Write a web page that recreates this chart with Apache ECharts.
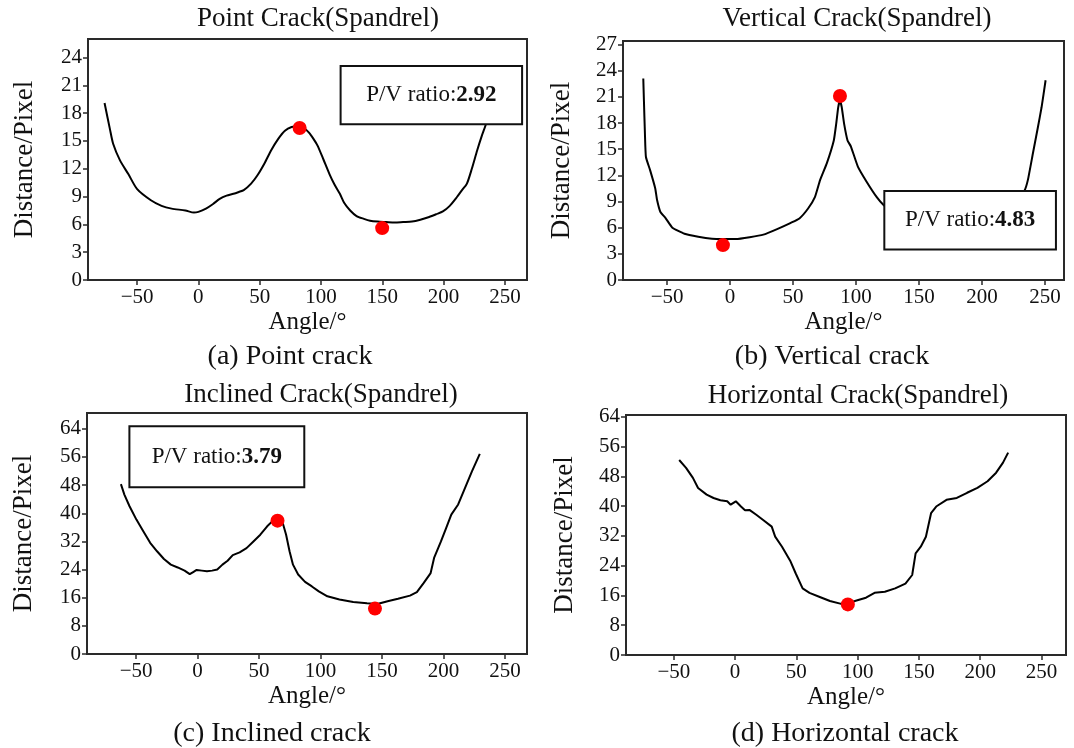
<!DOCTYPE html>
<html>
<head>
<meta charset="utf-8">
<script src="https://cdn.jsdelivr.net/npm/echarts@6/dist/echarts.min.js"></script>
<style>
  html, body { margin: 0; padding: 0; background: #ffffff; }
  #chart { width: 1074px; height: 748px; }
</style>
</head>
<body>
<div id="chart"></div>
<script>
// Distance profile (pixel) versus scan angle for four spandrel crack types.

const panelTitles = ['Point Crack(Spandrel)', 'Vertical Crack(Spandrel)', 'Inclined Crack(Spandrel)', 'Horizontal Crack(Spandrel)'];
const panelCaptions = ['(a) Point crack', '(b) Vertical crack', '(c) Inclined crack', '(d) Horizontal crack'];

const angleTicks = [-50, 0, 50, 100, 150, 200, 250];
const pointTicks = [0, 3, 6, 9, 12, 15, 18, 21, 24];
const verticalTicks = [0, 3, 6, 9, 12, 15, 18, 21, 24, 27];
const inclinedTicks = [0, 8, 16, 24, 32, 40, 48, 56, 64];
const horizontalTicks = [0, 8, 16, 24, 32, 40, 48, 56, 64];

// [angle (deg), distance (px)]
const pointCurve = [
  [-76.5, 19.1], [-72, 16.2], [-69.5, 14.7], [-63.9, 12.9], [-57, 11.4], [-49.9, 9.8],
  [-38.7, 8.6], [-30, 8.0], [-21.8, 7.7], [-10.6, 7.5], [-3.6, 7.27], [0, 7.35],
  [6.2, 7.7], [12, 8.2], [17.4, 8.75], [23, 9.1], [28.6, 9.3], [33, 9.5], [37, 9.7],
  [43, 10.4], [48.2, 11.3], [54, 12.6], [59.4, 14.0], [65, 15.2], [70.6, 16.1],
  [76, 16.5], [81.8, 16.6], [86, 16.4], [90.2, 15.9], [94, 15.2], [97.2, 14.5],
  [102, 13.0], [107, 11.4], [111, 10.3], [115.4, 9.3], [119, 8.3], [123.8, 7.5],
  [129, 6.9], [135, 6.6], [140, 6.4], [146.2, 6.3], [153, 6.25], [160.2, 6.2],
  [167, 6.25], [174.2, 6.3], [181, 6.5], [188.2, 6.8], [194, 7.1], [199.4, 7.4],
  [205, 8.0], [210.6, 8.9], [215, 9.7], [219, 10.4], [223, 12.0], [227.4, 14.0],
  [231, 15.5], [235, 17.0], [238, 18.5]
];
const pointMarks = [[82.6, 16.4], [149.9, 5.6]];
const pointRatio = '2.92';

const verticalCurve = [
  [-68.9, 23.1], [-68.4, 20.6], [-67.6, 16.8], [-66.8, 14.1], [-63.5, 12.6], [-59.4, 10.5],
  [-58, 9.2], [-55.3, 7.8], [-51.2, 7.1], [-45.8, 6.0], [-36.2, 5.3], [-25.3, 4.96],
  [-14.4, 4.73], [-6.3, 4.69], [4.6, 4.69], [15.5, 4.9], [26.4, 5.2], [37.3, 5.84],
  [48.2, 6.56], [55, 7.06], [61.9, 8.2], [67.3, 9.5], [71.4, 11.45], [76.8, 13.4],
  [82.3, 16.0], [84.2, 17.9], [85.8, 19.8], [87.2, 20.6], [88.6, 19.8], [90.5, 17.9],
  [93.2, 16.0], [95.9, 15.3], [101.4, 13.0], [108.2, 11.3], [116.4, 9.5], [121.8, 8.6],
  [130, 7.6], [140, 6.8], [150, 6.2], [160, 5.8], [170, 5.6], [180, 5.6], [190, 5.8],
  [200, 6.2], [210, 6.9], [220, 7.9], [228, 9.2], [233.5, 10.2], [236.3, 11.45],
  [240.3, 14.5], [244.4, 17.6], [247.2, 19.8], [250.4, 22.9]
];
const verticalMarks = [[87.2, 21.1], [-5.7, 4.0]];
const verticalRatio = '4.83';

const inclinedCurve = [
  [-62.4, 48.3], [-59.6, 45.3], [-55.4, 42.0], [-49.8, 38.2], [-44.2, 34.9], [-38.6, 31.6],
  [-33.0, 29.2], [-27.4, 27.0], [-21.8, 25.4], [-16.2, 24.6], [-10.6, 23.7], [-6.4, 22.7],
  [-3.6, 23.3], [-0.8, 23.9], [3.4, 23.7], [7.6, 23.5], [11.8, 23.7], [16.0, 24.0],
  [20.2, 25.4], [24.4, 26.5], [28.6, 28.1], [34.2, 28.9], [39.8, 30.1], [45.4, 32.0],
  [51.0, 33.9], [56.6, 36.3], [62.2, 38.2], [65, 38.9], [69.2, 37.3], [72, 33.9],
  [74.8, 29.2], [77.6, 25.4], [81.8, 22.6], [87.4, 20.5], [93, 19.2], [98.6, 17.8],
  [105.6, 16.4], [115.4, 15.5], [126.6, 14.8], [137.8, 14.4], [146.2, 14.2], [154.6, 15.0],
  [163, 15.7], [172.8, 16.6], [178.4, 17.6], [184, 20.2], [189.6, 23.0], [192.4, 27.3],
  [198, 32.0], [202.2, 35.8], [206.4, 39.6], [212, 42.5], [217.6, 47.2], [223.2, 51.9],
  [229.6, 56.9]
];
const inclinedMarks = [[65, 37.9], [144.3, 12.9]];
const inclinedRatio = '3.79';

const horizontalCurve = [
  [-45.6, 52.4], [-40, 50.3], [-34.4, 47.6], [-30.2, 44.9], [-23.2, 43.1], [-17.6, 42.2],
  [-12, 41.6], [-6.4, 41.3], [-3.6, 40.4], [0.6, 41.3], [4.8, 39.9], [8.1, 38.9],
  [11.7, 39.0], [17.3, 37.7], [22.9, 36.3], [29.9, 34.5], [32.7, 31.8], [38.3, 29.1],
  [45.3, 25.1], [49.5, 21.9], [55.1, 17.9], [60.7, 16.7], [69.1, 15.6], [77.4, 14.5],
  [85.8, 13.8], [92.8, 14.0], [99.8, 14.7], [106.8, 15.4], [113.8, 16.7], [122.2, 17.0],
  [130.6, 17.9], [139, 19.2], [144.5, 21.5], [147.3, 27.3], [151.5, 29.1], [155.7, 31.8],
  [159.9, 38.1], [164.1, 39.9], [172.5, 41.7], [180.9, 42.2], [189.3, 43.6], [197.7, 44.9],
  [206, 46.7], [213, 49.0], [218.6, 51.7], [222.8, 54.4]
];
const horizontalMarks = [[92, 13.6]];

const FONT = '"Liberation Serif", "Times New Roman", serif';
const INK = '#111111';

const panels = [
  { curve: pointCurve, marks: pointMarks, ratio: pointRatio, yTicks: pointTicks, yMax: 26,
    xMin: -90, xMax: 268, smooth: 0.25,
    box: [[116, 23.1], [264, 16.8]],
    grid: { left: 88, top: 39, width: 439, height: 241 }, nameGap: 50,
    titleAt: [318, 19], captionAt: [290, 357] },
  { curve: verticalCurve, marks: verticalMarks, ratio: verticalRatio, yTicks: verticalTicks, yMax: 27.4,
    xMin: -85, xMax: 265, smooth: 0.15,
    box: [[122.4, 10.2], [258.6, 3.5]],
    grid: { left: 623, top: 41, width: 441, height: 239 }, nameGap: 48,
    titleAt: [857, 19], captionAt: [832, 357] },
  { curve: inclinedCurve, marks: inclinedMarks, ratio: inclinedRatio, yTicks: inclinedTicks, yMax: 68.5,
    xMin: -90, xMax: 268, smooth: false,
    box: [[-55.5, 64.7], [86.8, 47.4]],
    grid: { left: 87, top: 413, width: 440, height: 241 }, nameGap: 50,
    titleAt: [321, 395], captionAt: [272, 734] },
  { curve: horizontalCurve, marks: horizontalMarks, ratio: null, yTicks: horizontalTicks, yMax: 64.5,
    xMin: -89, xMax: 270, smooth: false,
    box: null,
    grid: { left: 626, top: 415, width: 440, height: 240 }, nameGap: 48,
    titleAt: [858, 396], captionAt: [845, 734] }
];

const minusFmt = v => (v < 0 ? '\u2212' + Math.abs(v) : String(v));

const option = {
  backgroundColor: '#ffffff',
  animation: false,
  grid: [], xAxis: [], yAxis: [], series: [], graphic: []
};

panels.forEach((p, i) => {
  option.grid.push(Object.assign({
    show: true, borderColor: '#2a2a2a', borderWidth: 2, backgroundColor: 'transparent'
  }, p.grid));

  option.xAxis.push({
    type: 'value', gridIndex: i, min: p.xMin, max: p.xMax,
    splitLine: { show: false },
    axisLine: { onZero: false, lineStyle: { color: '#2a2a2a', width: 2 } },
    axisTick: { show: true, customValues: angleTicks, length: 5, lineStyle: { color: '#2a2a2a', width: 1.5 } },
    axisLabel: { customValues: angleTicks, formatter: minusFmt, fontFamily: FONT, fontSize: 21, color: INK, margin: 7 },
    name: 'Angle/\u00b0', nameLocation: 'middle', nameGap: 30,
    nameTextStyle: { fontFamily: FONT, fontSize: 25, color: INK }
  });

  option.yAxis.push({
    type: 'value', gridIndex: i, min: 0, max: p.yMax,
    splitLine: { show: false },
    axisLine: { show: true, onZero: false, lineStyle: { color: '#2a2a2a', width: 2 } },
    axisTick: { show: true, customValues: p.yTicks, length: 5, lineStyle: { color: '#2a2a2a', width: 1.5 } },
    axisLabel: { customValues: p.yTicks, fontFamily: FONT, fontSize: 21, color: INK, margin: 6 },
    name: 'Distance/Pixel', nameLocation: 'middle', nameGap: p.nameGap, nameRotate: 90,
    nameTextStyle: { fontFamily: FONT, fontSize: 27, color: INK }
  });

  const line = {
    type: 'line', xAxisIndex: i, yAxisIndex: i, data: p.curve,
    showSymbol: false, smooth: p.smooth, z: 2,
    lineStyle: { color: '#000000', width: 2 },
    silent: true
  };
  if (p.box) {
    line.markArea = {
      silent: true, z: 10,
      itemStyle: { color: '#ffffff', borderColor: '#111111', borderWidth: 2, opacity: 1 },
      label: {
        show: true, position: 'inside',
        formatter: '{n|P/V ratio:}{b|' + p.ratio + '}',
        rich: {
          n: { fontFamily: FONT, fontSize: 23, color: INK },
          b: { fontFamily: FONT, fontSize: 23, color: INK, fontWeight: 'bold' }
        }
      },
      data: [[{ coord: p.box[0] }, { coord: p.box[1] }]]
    };
  }
  option.series.push(line);

  option.series.push({
    type: 'scatter', xAxisIndex: i, yAxisIndex: i, data: p.marks,
    symbol: 'circle', symbolSize: 14, z: 5, silent: true,
    itemStyle: { color: '#ff0000', opacity: 1 }
  });

  option.graphic.push({
    type: 'text', x: p.titleAt[0], y: p.titleAt[1], silent: true,
    style: { text: panelTitles[i], font: '27px ' + FONT, fill: INK,
             align: 'center', verticalAlign: 'middle', textAlign: 'center', textVerticalAlign: 'middle' }
  });
  option.graphic.push({
    type: 'text', x: p.captionAt[0], y: p.captionAt[1], silent: true,
    style: { text: panelCaptions[i], font: '28px ' + FONT, fill: INK,
             align: 'center', verticalAlign: 'middle', textAlign: 'center', textVerticalAlign: 'middle' }
  });
});

const chart = echarts.init(document.getElementById('chart'), null, { renderer: 'canvas' });
chart.setOption(option);
</script>
</body>
</html>
